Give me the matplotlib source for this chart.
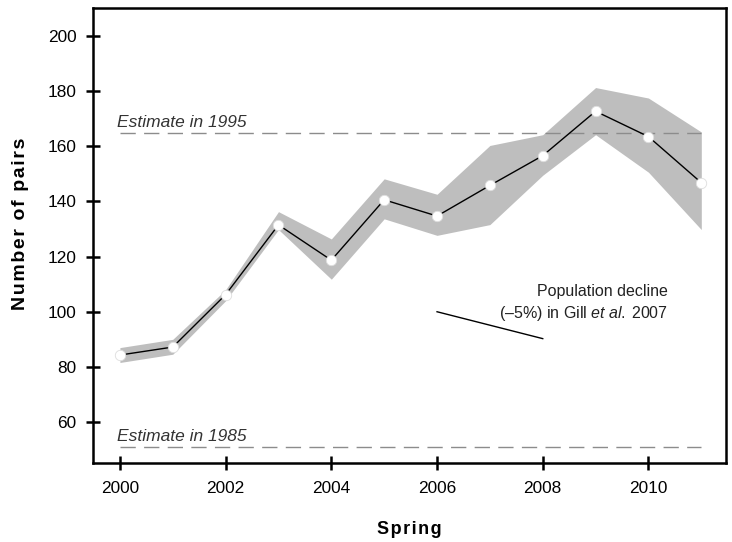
import matplotlib
matplotlib.use('Agg')
import matplotlib.pyplot as plt
import numpy as np

plt.rcParams.update({
    'font.family':       'Liberation Sans',
    'mathtext.fontset':  'custom',
    'mathtext.rm':       'Liberation Sans',
    'mathtext.it':       'Liberation Sans:italic',
    'font.size':         10,
})

# ── Datos ──────────────────────────────────────────────────────────────────
YEARS  = [2000, 2001, 2002, 2003, 2004, 2005, 2006, 2007, 2008, 2009, 2010, 2011]
PAIRS  = [84.3, 87.2, 106.2, 131.5, 118.7, 140.6, 134.7, 145.8, 156.6, 172.7, 163.5, 146.8]
UPPER  = [87.0, 90.0, 108.0, 136.3, 126.4, 148.2, 142.6, 160.3, 164.2, 181.3, 177.5, 165.2]
LOWER  = [81.6, 84.6, 104.0, 129.8, 111.8, 133.7, 127.7, 131.6, 149.5, 164.2, 150.6, 129.8]

EST_1995 = 165.0
EST_1985 = 51.0

DECLINE_YEARS  = [2006, 2008]
DECLINE_VALUES = [100.0, 90.25]

XTICKS = [2000, 2002, 2004, 2006, 2008, 2010]
YTICKS = [60, 80, 100, 120, 140, 160, 180, 200]


def spaced(s):
    # espaciado entre letras (hair space)
    return '\u200a'.join(s)


# ── Figura ─────────────────────────────────────────────────────────────────
fig = plt.figure(figsize=(7.32, 5.42), dpi=100)
ax = fig.add_axes([0.127, 0.146, 0.865, 0.839])

ax.fill_between(YEARS, LOWER, UPPER, color='#bebebe', linewidth=0, zorder=1)
ax.plot(YEARS, PAIRS, color='black', linewidth=1.0, zorder=3,
        marker='o', markersize=7.5, markerfacecolor='white',
        markeredgecolor='#dddddd', markeredgewidth=0.6)

# Estimaciones históricas
dash = (0, (11, 6))
ax.plot([YEARS[0], YEARS[-1]], [EST_1995, EST_1995], color='#8c8c8c',
        linewidth=1.0, linestyle=dash, zorder=2)
ax.plot([YEARS[0], YEARS[-1]], [EST_1985, EST_1985], color='#8c8c8c',
        linewidth=1.0, linestyle=dash, zorder=2)
ax.text(1999.95, 167.1, 'Estimate in 1995', style='italic',
        fontsize=12.5, color='#333333', ha='left', va='baseline')
ax.text(1999.95, 53.3, 'Estimate in 1985', style='italic',
        fontsize=12.5, color='#333333', ha='left', va='baseline')

# Declive de población (Gill et al. 2007)
ax.plot(DECLINE_YEARS, DECLINE_VALUES, color='black', linewidth=1.0)
ax.text(2010.36, 103.0,
        'Population decline\n(–5%) in Gill $\\it{et\\ al.}$\u20092007',
        ha='right', va='center', fontsize=11.5, color='#222222',
        linespacing=1.4)

ax.set_xlim(1999.49, 2011.47)
ax.set_ylim(45.2, 210.1)
ax.set_xticks(XTICKS)
ax.set_yticks(YTICKS)
ax.tick_params(direction='inout', length=10, width=1.8, labelsize=12.4,
               colors='black', pad=7)
ax.tick_params(axis='x', pad=8)
for sp in ax.spines.values():
    sp.set_linewidth(1.8)

ax.set_xlabel(spaced('Spring'), fontsize=13, fontweight='bold', labelpad=18)
ax.set_ylabel(spaced('Number of pairs'), fontsize=14, fontweight='bold')
ax.yaxis.set_label_coords(-0.101, 0.525)

fig.savefig('out.png', dpi=100)
